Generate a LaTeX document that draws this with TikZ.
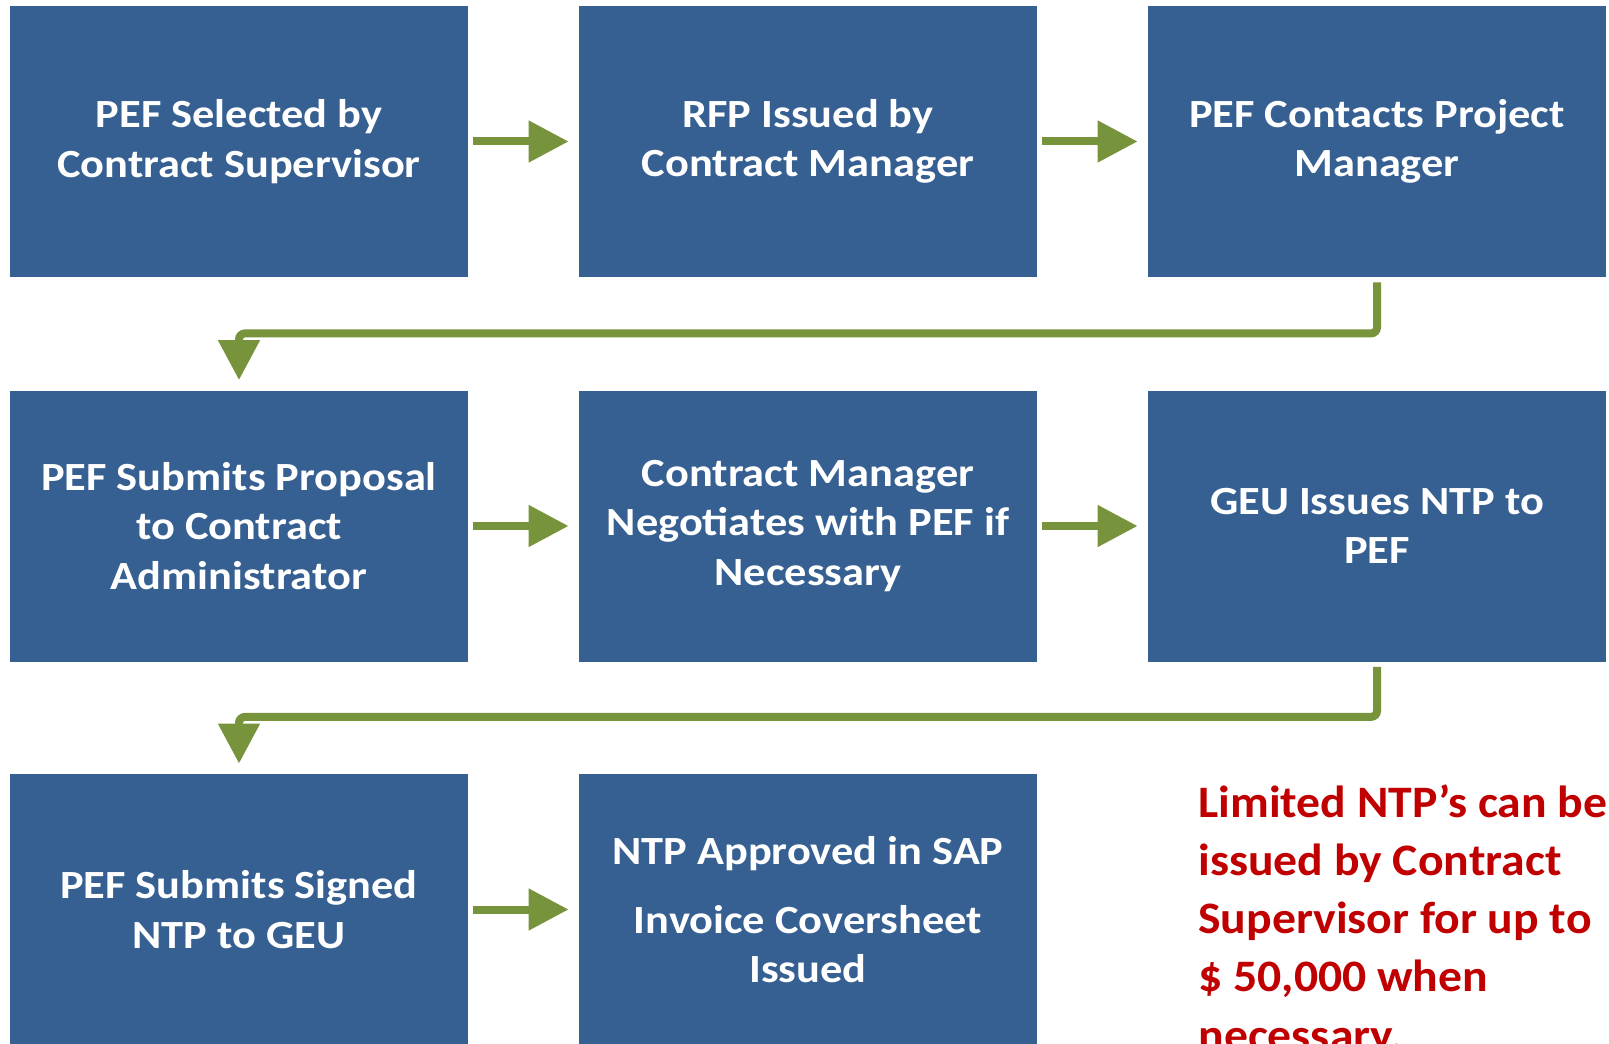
\documentclass[tikz,border=0pt]{standalone}
\usepackage{fontspec}
\setmainfont{Carlito}
\newfontfamily\stepfont[FakeStretch=1.11]{Carlito}
\newfontfamily\notefont[FakeStretch=1.06]{Carlito}
\usetikzlibrary{arrows.meta}
\definecolor{boxblue}{HTML}{376092}
\definecolor{arrowgreen}{HTML}{77933C}
\definecolor{notered}{HTML}{C00000}
\tikzset{
    stepbox/.style={fill=boxblue,text=white,minimum width=229pt,minimum height=135.5pt,
        inner sep=0pt,align=center,font=\stepfont\fontsize{20}{24.65}\selectfont\bfseries},
    flow/.style={draw=arrowgreen,line width=4pt,-{Triangle[length=20pt,width=20pt]},
        shorten <=2.5pt,shorten >=5pt,rounded corners=3pt},
    note/.style={text=notered,align=left,inner sep=0pt,font=\notefont\fontsize{22.5}{29.15}\selectfont\bfseries},
}
\begin{document}
\begin{tikzpicture}[x=0.5pt,y=-0.5pt]
    \useasboundingbox (0,0) rectangle (1609,1043);
    \foreach \name/\x/\y/\txt in {
        sel/239/141.5/{PEF Selected by\\Contract Supervisor},
        rfp/808/141.5/{RFP Issued by\\Contract Manager},
        pm/1377/141.5/{PEF Contacts Project\\Manager},
        prop/239/526/{PEF Submits Proposal\\to Contract\\Administrator},
        nego/808/526/{Contract Manager\\Negotiates with PEF if\\Necessary},
        ntp/1377/526/{GEU Issues NTP to\\PEF},
        sign/239/909.5/{PEF Submits Signed\\NTP to GEU},
        sap/808/909.5/{NTP Approved in SAP\\[10pt]Invoice Coversheet\\Issued}}{
        \node[stepbox] (\name) at (\x,\y) {\txt};
    }
    \draw[flow](sel)--(rfp);
    \draw[flow](rfp)--(pm);
    \draw[flow](pm.south)--++(0,56)-|(prop.north);
    \draw[flow](prop)--(nego);
    \draw[flow](nego)--(ntp);
    \draw[flow](ntp.south)--++(0,55)-|(sign.north);
    \draw[flow](sign)--(sap);
    % base anchor sits on the last line
    \node[note,anchor=base west] (limit) at (1198,1050.2) {Limited NTP’s can be\\issued by Contract\\Supervisor for up to\\\$ 50,000 when\\necessary.};
\end{tikzpicture}
\end{document}
